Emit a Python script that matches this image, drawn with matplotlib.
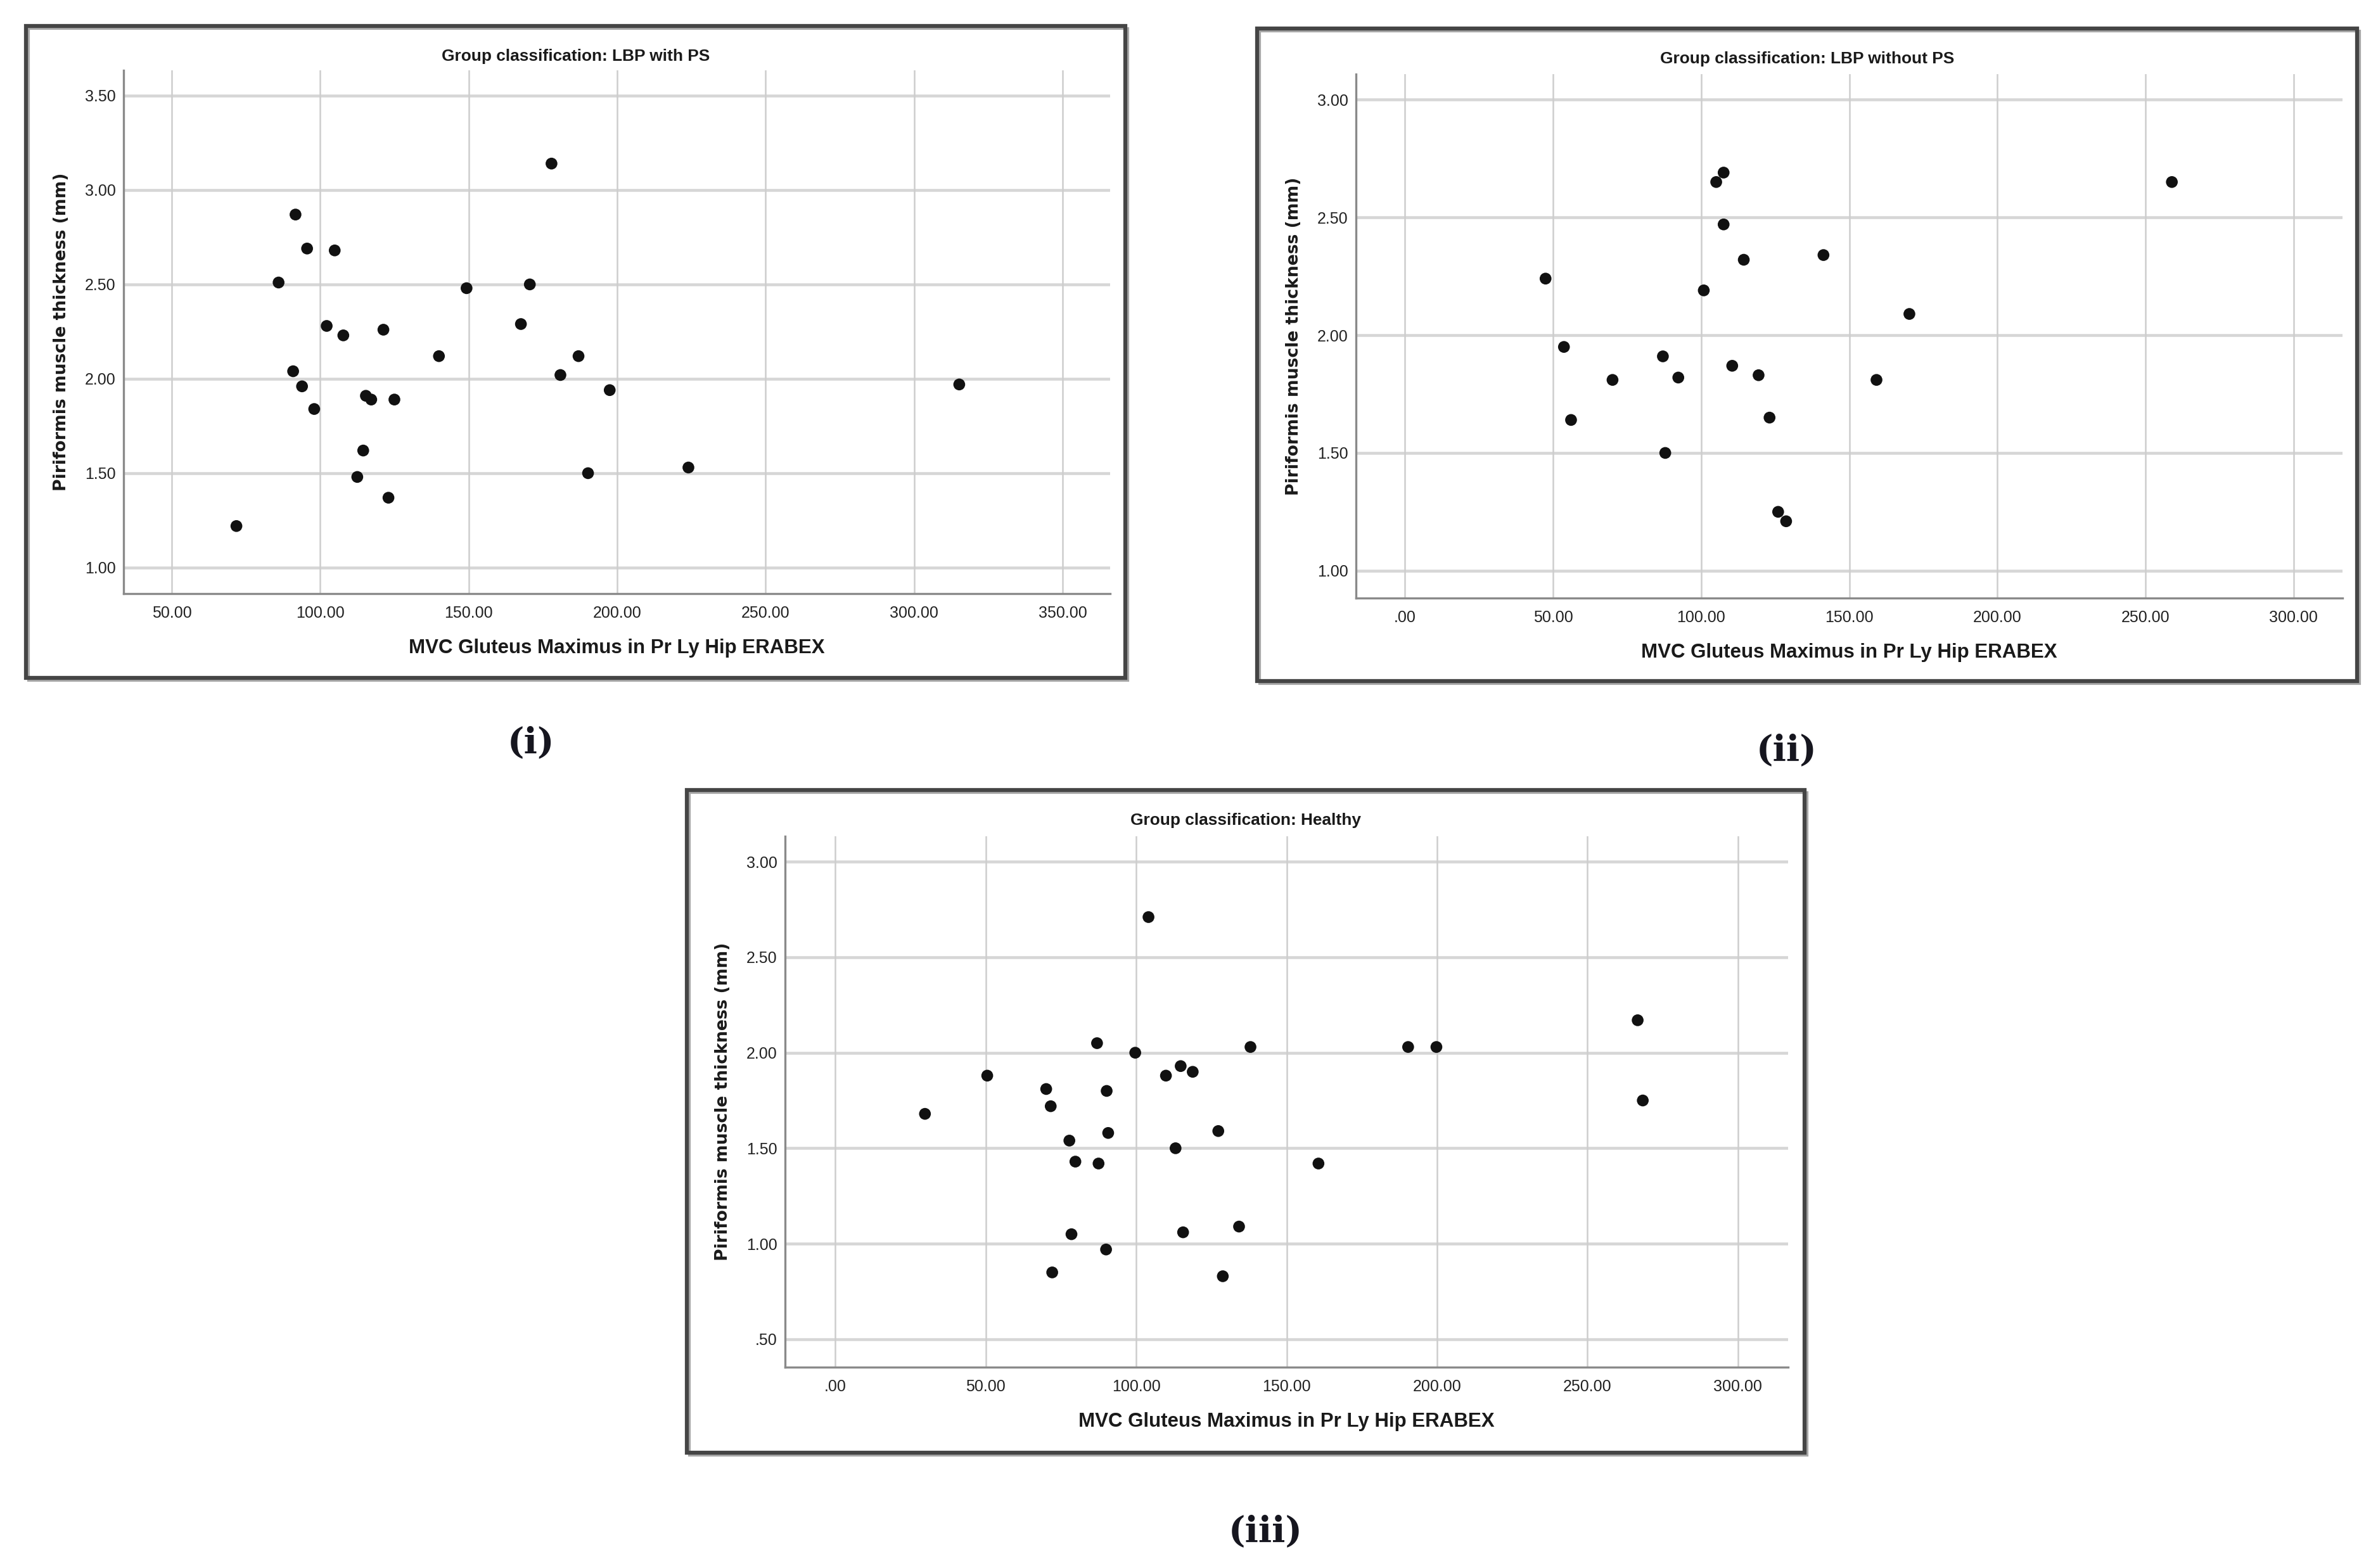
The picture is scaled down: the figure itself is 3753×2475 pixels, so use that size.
import matplotlib
matplotlib.use("Agg")
import matplotlib.pyplot as plt
from matplotlib.patches import Rectangle
from matplotlib.ticker import FuncFormatter, FixedLocator
from matplotlib import font_manager

# group (i): LBP with PS
x_lbp_ps = [71.8, 86.0, 91.7, 90.9, 93.9, 95.6, 98.0, 102.2, 104.9, 107.8, 112.5, 114.5, 115.4, 117.2,
            121.3, 123.0, 125.0, 140.0, 149.3, 167.6, 170.6, 177.9, 180.9, 187.0, 190.2, 197.5, 224.0, 315.2]
y_lbp_ps = [1.22, 2.51, 2.87, 2.04, 1.96, 2.69, 1.84, 2.28, 2.68, 2.23, 1.48, 1.62, 1.91, 1.89,
            2.26, 1.37, 1.89, 2.12, 2.48, 2.29, 2.50, 3.14, 2.02, 2.12, 1.50, 1.94, 1.53, 1.97]

# group (ii): LBP without PS
x_lbp_nops = [47.5, 53.7, 56.1, 70.1, 87.1, 87.9, 92.3, 100.9, 105.1, 107.6, 107.6, 110.5, 114.4, 119.4,
              123.1, 126.0, 128.7, 141.3, 159.2, 170.3, 258.9]
y_lbp_nops = [2.24, 1.95, 1.64, 1.81, 1.91, 1.50, 1.82, 2.19, 2.65, 2.69, 2.47, 1.87, 2.32, 1.83,
              1.65, 1.25, 1.21, 2.34, 1.81, 2.09, 2.65]

# group (iii): Healthy
x_healthy = [29.8, 50.5, 70.1, 71.6, 72.1, 77.8, 78.5, 79.8, 87.0, 87.5, 90.0, 90.2, 90.7, 99.7, 104.1,
             109.9, 113.1, 114.8, 115.6, 118.8, 127.3, 128.8, 134.2, 138.0, 160.6, 190.4, 199.8, 266.7, 268.4]
y_healthy = [1.68, 1.88, 1.81, 1.72, 0.85, 1.54, 1.05, 1.43, 2.05, 1.42, 0.97, 1.80, 1.58, 2.00, 2.71,
             1.88, 1.50, 1.93, 1.06, 1.90, 1.59, 0.83, 1.09, 2.03, 1.42, 2.03, 2.03, 2.17, 1.75]

titles = ["Group classification: LBP with PS",
          "Group classification: LBP without PS",
          "Group classification: Healthy"]
panel_tags = ["(i)", "(ii)", "(iii)"]
xticks_i = [50, 100, 150, 200, 250, 300, 350]
xticks_ii = [0, 50, 100, 150, 200, 250, 300]
yticks_i = [1.0, 1.5, 2.0, 2.5, 3.0, 3.5]
yticks_ii = [1.0, 1.5, 2.0, 2.5, 3.0]
yticks_iii = [0.5, 1.0, 1.5, 2.0, 2.5, 3.0]
xlabel = "MVC Gluteus Maximus in Pr Ly Hip ERABEX"
ylabel = "Piriformis muscle thickness (mm)"

W, H = 3753, 2475
DPI = 300

names = {f.name for f in font_manager.fontManager.ttflist}
narrow = "Liberation Sans Narrow" if "Liberation Sans Narrow" in names else "Liberation Sans"

fig = plt.figure(figsize=(W / DPI, H / DPI), dpi=DPI)
fig.patch.set_facecolor("white")


def fx(px):
    return px / W


def fy(py):
    return 1 - py / H


def fmt(v, pos):
    s = "%.2f" % v
    if s.startswith("0."):
        s = s[1:]
    return s


def draw_frame(l, t, r, b):
    # light shadow on the right / bottom, then the dark frame
    fig.add_artist(Rectangle((fx(l + 4), fy(b + 4)), fx(r - l), (b - t) / H, transform=fig.transFigure,
                             fill=False, lw=1.0, ec="#a8a8a8", zorder=0))
    fig.add_artist(Rectangle((fx(l), fy(b)), fx(r - l), (b - t) / H, transform=fig.transFigure,
                             fill=False, lw=1.5, ec="#454545", zorder=1))


def panel(frame, box, xs, ys, title, xlim, ylim, xt, yt, tag, tag_pos):
    l, t, r, b = frame
    draw_frame(l, t, r, b)
    al, at, ar, ab = box
    ax = fig.add_axes([fx(al), fy(ab), fx(ar - al), (ab - at) / H])
    ax.set_xlim(*xlim)
    ax.set_ylim(*ylim)
    ax.xaxis.set_major_locator(FixedLocator(xt))
    ax.yaxis.set_major_locator(FixedLocator(yt))
    ax.xaxis.set_major_formatter(FuncFormatter(fmt))
    ax.yaxis.set_major_formatter(FuncFormatter(fmt))
    for sp in ["top", "right"]:
        ax.spines[sp].set_visible(False)
    for sp in ["left", "bottom"]:
        ax.spines[sp].set_color("#8a8a8a")
        ax.spines[sp].set_linewidth(0.8)
    ax.tick_params(length=0, labelsize=6, labelcolor="#222222")
    ax.tick_params(axis="x", pad=4.5)
    ax.tick_params(axis="y", pad=3)
    for lab in ax.get_xticklabels() + ax.get_yticklabels():
        lab.set_family(narrow)
    for v in yt:
        ax.axhline(v, color="#d6d6d6", lw=1.1, zorder=1)
    for v in xt:
        ax.axvline(v, color="#cdcdcd", lw=0.6, zorder=1)
    ax.scatter(xs, ys, s=20, color="#111111", edgecolors="none", zorder=3)

    ax_w = ar - al
    ax_h = ab - at
    ax.set_xlabel(xlabel, fontsize=7.5, fontweight="bold", family="Liberation Sans", color="#1a1a1a")
    ax.xaxis.set_label_coords(0.5, -86 / ax_h)
    ax.xaxis.label.set_va("center")
    ax.set_ylabel(ylabel, fontsize=6.4, fontweight="bold", family="DejaVu Sans", color="#1a1a1a")
    ax.yaxis.set_label_coords(-98 / ax_w, 0.5)
    ax.yaxis.label.set_va("center")

    fig.text(fx((l + r) / 2), fy(t + 48), title, ha="center", va="center",
             fontsize=6.3, fontweight="bold", family=narrow, color="#1a1a1a")
    fig.text(fx(tag_pos[0]), fy(tag_pos[1]), tag, ha="center", va="center",
             fontsize=13.5, fontweight="bold", family="DejaVu Serif", color="#16161f")
    return ax


panel((41, 41, 1776, 1070), (195, 111, 1752, 937), x_lbp_ps, y_lbp_ps, titles[0],
      (33.8, 366.0), (0.862, 3.634), xticks_i, yticks_i, panel_tags[0], (838, 1173))
panel((1984, 45, 3720, 1075), (2140, 117, 3697, 944), x_lbp_nops, y_lbp_nops, titles[1],
      (-16.5, 316.5), (0.884, 3.108), xticks_ii, yticks_ii, panel_tags[1], (2820, 1185))
panel((1084, 1247, 2848, 2293), (1239, 1320, 2822, 2158), x_healthy, y_healthy, titles[2],
      (-16.7, 316.7), (0.354, 3.133), xticks_ii, yticks_iii, panel_tags[2], (1997, 2418))

fig.savefig("out.png", dpi=DPI)
